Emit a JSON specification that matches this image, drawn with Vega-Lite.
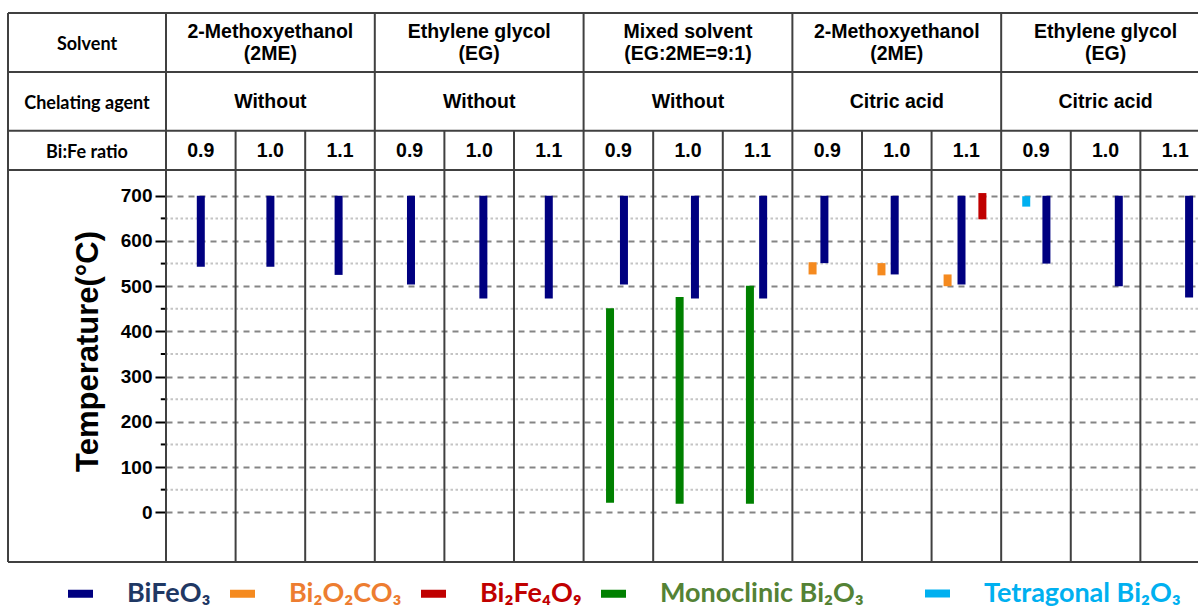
{
  "$schema": "https://vega.github.io/schema/vega-lite/v6.json",
  "width": 1032,
  "height": 392,
  "autosize": {"type": "none"},
  "padding": {"left": 166, "top": 170, "right": 0, "bottom": 48},
  "background": "white",
  "config": {
    "view": {"stroke": null},
    "legend": {
      "orient": "none",
      "legendY": 407,
      "direction": "horizontal",
      "title": null,
      "labelFont": "Lato",
      "labelFontSize": 27,
      "labelFontWeight": "bold",
      "labelOffset": 30,
      "columnPadding": 3,
      "symbolType": "M-1,0H1",
      "symbolSize": 625,
      "symbolStrokeWidth": 8,
      "labelLimit": 400,
      "padding": 0
    }
  },
  "datasets": {
    "bars": [
      {"solvent": "2ME", "agent": "Without", "ratio": "0.9", "phase": "BiFeO₃", "tmin": 543, "tmax": 700, "pos": 0.5},
      {"solvent": "2ME", "agent": "Without", "ratio": "1.0", "phase": "BiFeO₃", "tmin": 543, "tmax": 700, "pos": 1.5},
      {"solvent": "2ME", "agent": "Without", "ratio": "1.1", "phase": "BiFeO₃", "tmin": 525, "tmax": 700, "pos": 2.48},
      {"solvent": "EG", "agent": "Without", "ratio": "0.9", "phase": "BiFeO₃", "tmin": 504, "tmax": 700, "pos": 3.52},
      {"solvent": "EG", "agent": "Without", "ratio": "1.0", "phase": "BiFeO₃", "tmin": 473, "tmax": 700, "pos": 4.56},
      {"solvent": "EG", "agent": "Without", "ratio": "1.1", "phase": "BiFeO₃", "tmin": 473, "tmax": 700, "pos": 5.5},
      {"solvent": "Mixed", "agent": "Without", "ratio": "0.9", "phase": "Monoclinic Bi₂O₃", "tmin": 21, "tmax": 451, "pos": 6.38},
      {"solvent": "Mixed", "agent": "Without", "ratio": "0.9", "phase": "BiFeO₃", "tmin": 504, "tmax": 700, "pos": 6.58},
      {"solvent": "Mixed", "agent": "Without", "ratio": "1.0", "phase": "Monoclinic Bi₂O₃", "tmin": 19, "tmax": 476, "pos": 7.38},
      {"solvent": "Mixed", "agent": "Without", "ratio": "1.0", "phase": "BiFeO₃", "tmin": 473, "tmax": 700, "pos": 7.6},
      {"solvent": "Mixed", "agent": "Without", "ratio": "1.1", "phase": "Monoclinic Bi₂O₃", "tmin": 19, "tmax": 501, "pos": 8.39},
      {"solvent": "Mixed", "agent": "Without", "ratio": "1.1", "phase": "BiFeO₃", "tmin": 473, "tmax": 700, "pos": 8.58},
      {"solvent": "2ME", "agent": "Citric acid", "ratio": "0.9", "phase": "Bi₂O₂CO₃", "tmin": 526, "tmax": 553, "pos": 9.29},
      {"solvent": "2ME", "agent": "Citric acid", "ratio": "0.9", "phase": "BiFeO₃", "tmin": 551, "tmax": 700, "pos": 9.46},
      {"solvent": "2ME", "agent": "Citric acid", "ratio": "1.0", "phase": "Bi₂O₂CO₃", "tmin": 524, "tmax": 551, "pos": 10.28},
      {"solvent": "2ME", "agent": "Citric acid", "ratio": "1.0", "phase": "BiFeO₃", "tmin": 526, "tmax": 700, "pos": 10.47},
      {"solvent": "2ME", "agent": "Citric acid", "ratio": "1.1", "phase": "Bi₂O₂CO₃", "tmin": 500, "tmax": 526, "pos": 11.23},
      {"solvent": "2ME", "agent": "Citric acid", "ratio": "1.1", "phase": "BiFeO₃", "tmin": 504, "tmax": 700, "pos": 11.43},
      {"solvent": "2ME", "agent": "Citric acid", "ratio": "1.1", "phase": "Bi₂Fe₄O₉", "tmin": 648, "tmax": 706, "pos": 11.73},
      {"solvent": "EG", "agent": "Citric acid", "ratio": "0.9", "phase": "Tetragonal Bi₂O₃", "tmin": 676, "tmax": 699, "pos": 12.36},
      {"solvent": "EG", "agent": "Citric acid", "ratio": "0.9", "phase": "BiFeO₃", "tmin": 550, "tmax": 700, "pos": 12.65},
      {"solvent": "EG", "agent": "Citric acid", "ratio": "1.0", "phase": "BiFeO₃", "tmin": 500, "tmax": 700, "pos": 13.69},
      {"solvent": "EG", "agent": "Citric acid", "ratio": "1.1", "phase": "BiFeO₃", "tmin": 475, "tmax": 700, "pos": 14.7}
    ],
    "minor": [{"t": 50}, {"t": 150}, {"t": 250}, {"t": 350}, {"t": 450}, {"t": 550}, {"t": 650}],
    "vlines": [{"c": -2.27}, {"c": 0}, {"c": 1}, {"c": 2}, {"c": 3}, {"c": 4}, {"c": 5}, {"c": 6}, {"c": 7}, {"c": 8}, {"c": 9}, {"c": 10}, {"c": 11}, {"c": 12}, {"c": 13}, {"c": 14}],
    "hvlines": [
      {"c": -2.27, "h0": 0, "h1": 4}, {"c": 0, "h0": 0, "h1": 4}, {"c": 3, "h0": 0, "h1": 4}, {"c": 6, "h0": 0, "h1": 4}, {"c": 9, "h0": 0, "h1": 4}, {"c": 12, "h0": 0, "h1": 4},
      {"c": 1, "h0": 3, "h1": 4}, {"c": 2, "h0": 3, "h1": 4}, {"c": 4, "h0": 3, "h1": 4}, {"c": 5, "h0": 3, "h1": 4}, {"c": 7, "h0": 3, "h1": 4}, {"c": 8, "h0": 3, "h1": 4},
      {"c": 10, "h0": 3, "h1": 4}, {"c": 11, "h0": 3, "h1": 4}, {"c": 13, "h0": 3, "h1": 4}, {"c": 14, "h0": 3, "h1": 4}
    ],
    "hhlines": [{"hy": 0}, {"hy": 1.5}, {"hy": 3}, {"hy": 4}],
    "rowlabels": [
      {"label": "Solvent", "mid": -1.135, "hy": 0.75},
      {"label": "Chelating agent", "mid": -1.135, "hy": 2.25},
      {"label": "Bi:Fe ratio", "mid": -1.135, "hy": 3.5}
    ],
    "solvents": [
      {"label": "2-Methoxyethanol\n(2ME)", "mid": 1.5, "hy": 0.75},
      {"label": "Ethylene glycol\n(EG)", "mid": 4.5, "hy": 0.75},
      {"label": "Mixed solvent\n(EG:2ME=9:1)", "mid": 7.5, "hy": 0.75},
      {"label": "2-Methoxyethanol\n(2ME)", "mid": 10.5, "hy": 0.75},
      {"label": "Ethylene glycol\n(EG)", "mid": 13.5, "hy": 0.75}
    ],
    "cells": [
      {"label": "Without", "mid": 1.5, "hy": 2.25},
      {"label": "Without", "mid": 4.5, "hy": 2.25},
      {"label": "Without", "mid": 7.5, "hy": 2.25},
      {"label": "Citric acid", "mid": 10.5, "hy": 2.25},
      {"label": "Citric acid", "mid": 13.5, "hy": 2.25},
      {"label": "0.9", "mid": 0.5, "hy": 3.5}, {"label": "1.0", "mid": 1.5, "hy": 3.5}, {"label": "1.1", "mid": 2.5, "hy": 3.5},
      {"label": "0.9", "mid": 3.5, "hy": 3.5}, {"label": "1.0", "mid": 4.5, "hy": 3.5}, {"label": "1.1", "mid": 5.5, "hy": 3.5},
      {"label": "0.9", "mid": 6.5, "hy": 3.5}, {"label": "1.0", "mid": 7.5, "hy": 3.5}, {"label": "1.1", "mid": 8.5, "hy": 3.5},
      {"label": "0.9", "mid": 9.5, "hy": 3.5}, {"label": "1.0", "mid": 10.5, "hy": 3.5}, {"label": "1.1", "mid": 11.5, "hy": 3.5},
      {"label": "0.9", "mid": 12.5, "hy": 3.5}, {"label": "1.0", "mid": 13.5, "hy": 3.5}, {"label": "1.1", "mid": 14.5, "hy": 3.5}
    ]
  },
  "layer": [
    {
      "layer": [
        {
          "data": {"name": "minor"},
          "mark": {"type": "rule", "color": "#c4c4c4", "strokeWidth": 2, "strokeDash": [2.5, 2.5]},
          "encoding": {
            "y": {
              "field": "t", "type": "quantitative",
              "scale": {"domain": [-110, 757], "nice": false, "zero": false},
              "axis": {
                "values": [0, 100, 200, 300, 400, 500, 600, 700],
                "grid": true, "gridDash": [6, 5], "gridColor": "#858585", "gridWidth": 2,
                "domain": false,
                "ticks": true, "tickSize": 11, "tickWidth": 2, "tickColor": "#000000",
                "labelFont": "Liberation Sans", "labelFontSize": 19, "labelFontWeight": "bold", "labelColor": "#000000", "labelPadding": 3,
                "title": "Temperature(°C)",
                "titleFont": "Liberation Sans", "titleFontSize": 31, "titleFontWeight": "bold", "titleColor": "#000000",
                "titleAngle": -90, "titleX": -78, "titleY": 181, "titleAlign": "center", "titleBaseline": "middle"
              }
            }
          }
        },
        {
          "data": {"name": "minor"},
          "mark": {"type": "rule", "color": "#000000", "strokeWidth": 2},
          "encoding": {
            "x": {"datum": -0.075, "type": "quantitative", "scale": {"domain": [0, 14.828], "nice": false, "zero": false}, "axis": null},
            "x2": {"datum": 0},
            "y": {"field": "t", "type": "quantitative"}
          }
        },
        {
          "data": {"name": "vlines"},
          "mark": {"type": "rule", "color": "#404040", "strokeWidth": 2},
          "encoding": {
            "x": {"field": "c", "type": "quantitative", "scale": {"domain": [0, 14.828], "nice": false, "zero": false}, "axis": null}
          }
        },
        {
          "data": {"values": [{}]},
          "mark": {"type": "rule", "color": "#404040", "strokeWidth": 2},
          "encoding": {
            "x": {"datum": -2.27, "type": "quantitative", "scale": {"domain": [0, 14.828], "nice": false, "zero": false}, "axis": null},
            "x2": {"datum": 15},
            "y": {"datum": -110, "type": "quantitative"}
          }
        },
        {
          "data": {"name": "bars"},
          "transform": [{"filter": "datum.phase !== 'Tetragonal Bi₂O₃'"}],
          "mark": {"type": "rule", "strokeWidth": 8, "strokeCap": "butt"},
          "encoding": {
            "x": {"field": "pos", "type": "quantitative", "scale": {"domain": [0, 14.828], "nice": false, "zero": false}, "axis": null},
            "y": {"field": "tmin", "type": "quantitative"},
            "y2": {"field": "tmax"},
            "color": {
              "field": "phase", "type": "nominal",
              "scale": {
                "domain": ["BiFeO₃", "Bi₂O₂CO₃", "Bi₂Fe₄O₉", "Monoclinic Bi₂O₃"],
                "range": ["#000080", "#F58A1F", "#C00000", "#008000"]
              },
              "legend": {
                "legendX": -102,
                "encode": {
                  "labels": {
                    "update": {
                      "fill": {"signal": "datum.value === 'BiFeO₃' ? '#1F3864' : datum.value === 'Bi₂O₂CO₃' ? '#ED7D31' : datum.value === 'Bi₂Fe₄O₉' ? '#C00000' : '#548235'"}
                    }
                  }
                }
              }
            }
          }
        },
        {
          "data": {"name": "bars"},
          "transform": [{"filter": "datum.phase === 'Tetragonal Bi₂O₃'"}],
          "mark": {"type": "rule", "strokeWidth": 8, "strokeCap": "butt"},
          "encoding": {
            "x": {"field": "pos", "type": "quantitative", "scale": {"domain": [0, 14.828], "nice": false, "zero": false}, "axis": null},
            "y": {"field": "tmin", "type": "quantitative"},
            "y2": {"field": "tmax"},
            "stroke": {
              "field": "phase", "type": "nominal",
              "scale": {"domain": ["Tetragonal Bi₂O₃"], "range": ["#00B0F0"]},
              "legend": {"legendX": 755, "labelColor": "#00B0F0"}
            }
          }
        }
      ]
    },
    {
      "layer": [
        {
          "data": {"name": "hhlines"},
          "mark": {"type": "rule", "color": "#404040", "strokeWidth": 2},
          "encoding": {
            "x": {"datum": -2.27, "type": "quantitative", "scale": {"domain": [0, 14.828], "nice": false, "zero": false}, "axis": null},
            "x2": {"datum": 15},
            "y": {"field": "hy", "type": "quantitative", "scale": {"domain": [0, 4], "range": [-157, 0], "nice": false, "zero": false}, "axis": null}
          }
        },
        {
          "data": {"name": "hvlines"},
          "mark": {"type": "rule", "color": "#404040", "strokeWidth": 2},
          "encoding": {
            "x": {"field": "c", "type": "quantitative", "scale": {"domain": [0, 14.828], "nice": false, "zero": false}, "axis": null},
            "y": {"field": "h0", "type": "quantitative", "scale": {"domain": [0, 4], "range": [-157, 0], "nice": false, "zero": false}, "axis": null},
            "y2": {"field": "h1"}
          }
        },
        {
          "data": {"name": "solvents"},
          "mark": {"type": "text", "font": "Liberation Sans", "fontSize": 19.5, "fontWeight": "bold", "color": "#000000", "lineBreak": "\n", "lineHeight": 22, "align": "center", "baseline": "middle", "dy": -10},
          "encoding": {
            "x": {"field": "mid", "type": "quantitative", "scale": {"domain": [0, 14.828], "nice": false, "zero": false}, "axis": null},
            "y": {"field": "hy", "type": "quantitative", "scale": {"domain": [0, 4], "range": [-157, 0], "nice": false, "zero": false}, "axis": null},
            "text": {"field": "label"}
          }
        },
        {
          "data": {"name": "cells"},
          "mark": {"type": "text", "font": "Liberation Sans", "fontSize": 19.5, "fontWeight": "bold", "color": "#000000", "align": "center", "baseline": "middle", "dy": 1},
          "encoding": {
            "x": {"field": "mid", "type": "quantitative", "scale": {"domain": [0, 14.828], "nice": false, "zero": false}, "axis": null},
            "y": {"field": "hy", "type": "quantitative", "scale": {"domain": [0, 4], "range": [-157, 0], "nice": false, "zero": false}, "axis": null},
            "text": {"field": "label"}
          }
        },
        {
          "data": {"name": "rowlabels"},
          "mark": {"type": "text", "font": "Lato", "fontSize": 18, "fontWeight": "bold", "color": "#000000", "align": "center", "baseline": "middle", "dy": 3},
          "encoding": {
            "x": {"field": "mid", "type": "quantitative", "scale": {"domain": [0, 14.828], "nice": false, "zero": false}, "axis": null},
            "y": {"field": "hy", "type": "quantitative", "scale": {"domain": [0, 4], "range": [-157, 0], "nice": false, "zero": false}, "axis": null},
            "text": {"field": "label"}
          }
        }
      ]
    }
  ],
  "resolve": {"scale": {"y": "independent"}}
}
